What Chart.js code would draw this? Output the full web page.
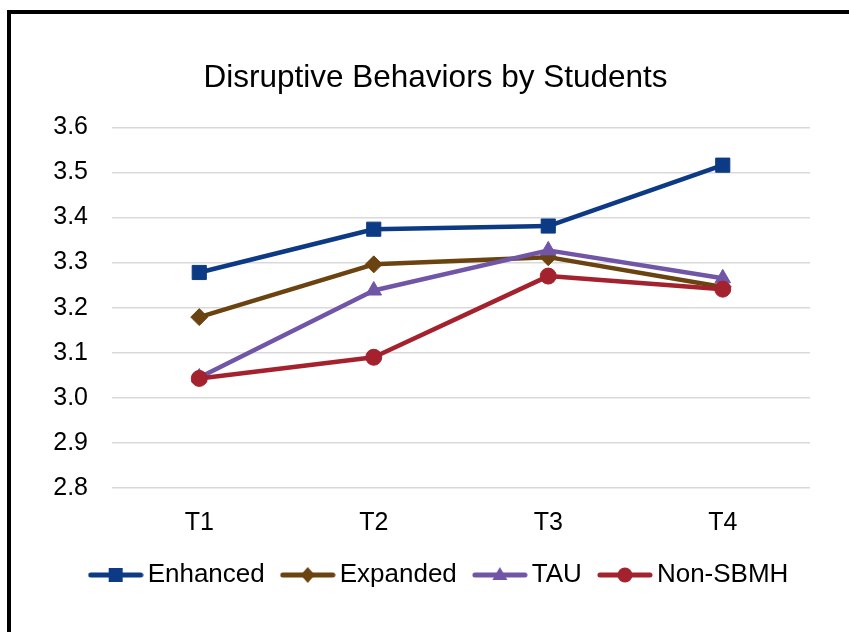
<!DOCTYPE html>
<html>
<head>
<meta charset="utf-8">
<script src="https://cdn.jsdelivr.net/npm/chart.js@4/dist/chart.umd.min.js"></script>
<style>
  html, body { margin: 0; padding: 0; background: #fff; overflow: hidden; }
  #frame {
    position: absolute; left: 7px; top: 10px;
    border-left: 4px solid #000; border-top: 4px solid #000;
    width: 849px; height: 618px;
  }
  canvas { display: block; }
</style>
</head>
<body>
<div id="frame"><canvas id="c" width="849" height="618"></canvas></div>
<script>
// Survey waves and mean scores per group
const waves = ['T1', 'T2', 'T3', 'T4'];
const enhanced = [3.278, 3.374, 3.381, 3.516];
const expanded = [3.179, 3.296, 3.312, 3.246];
const tau = [3.045, 3.238, 3.327, 3.265];
const nonSbmh = [3.043, 3.090, 3.270, 3.241];
const seriesNames = ['Enhanced', 'Expanded', 'TAU', 'Non-SBMH'];
const yTicks = [2.8, 2.9, 3.0, 3.1, 3.2, 3.3, 3.4, 3.5, 3.6];

const colors = ['#0D3A84', '#6A4311', '#7156A8', '#A4212E'];
const styles = ['rect', 'rectRot', 'triangle', 'circle'];
const radii = [10, 8.5, 9, 8];

const FONT = '"Liberation Sans", Arial, sans-serif';

// Legend swatch: a short line with the series marker in the middle
function legendSwatch(color, style) {
  const cv = document.createElement('canvas');
  cv.width = 56; cv.height = 18;
  const g = cv.getContext('2d');
  g.strokeStyle = color; g.fillStyle = color;
  g.lineWidth = 5; g.lineCap = 'round';
  g.beginPath(); g.moveTo(3, 9); g.lineTo(53, 9); g.stroke();
  g.beginPath();
  const cx = 28, cy = 9;
  if (style === 'rect') { g.rect(cx - 7, cy - 7, 14, 14); }
  else if (style === 'rectRot') { g.moveTo(cx, cy - 8); g.lineTo(cx + 7, cy); g.lineTo(cx, cy + 8); g.lineTo(cx - 7, cy); g.closePath(); }
  else if (style === 'triangle') { g.moveTo(cx, cy - 8); g.lineTo(cx + 7.5, cy + 5); g.lineTo(cx - 7.5, cy + 5); g.closePath(); }
  else { g.arc(cx, cy, 7.5, 0, Math.PI * 2); }
  g.fill();
  return cv;
}

const seriesValues = [enhanced, expanded, tau, nonSbmh];
const datasets = seriesValues.map((vals, i) => ({
  label: seriesNames[i],
  data: vals,
  borderColor: colors[i],
  backgroundColor: colors[i],
  borderWidth: 4.5,
  borderCapStyle: 'round',
  borderJoinStyle: 'round',
  pointStyle: styles[i],
  pointRadius: radii[i],
  pointBorderWidth: 1,
  pointBackgroundColor: colors[i],
  pointBorderColor: colors[i],
  order: 4 - i,
  tension: 0
}));

const swatches = colors.map((c, i) => legendSwatch(c, styles[i]));

// Nudge the legend row a little to the right of the canvas centre
const legendShift = {
  id: 'legendShift',
  afterLayout(chart) {
    if (chart.legend) { chart.legend.left += 7; chart.legend.right += 7; }
  }
};

new Chart(document.getElementById('c'), {
  type: 'line',
  data: { labels: waves, datasets },
  plugins: [legendShift],
  options: {
    responsive: false,
    animation: false,
    events: [],
    layout: { padding: { top: 0, left: 0, right: 0, bottom: 34 } },
    plugins: {
      tooltip: { enabled: false },
      title: {
        display: true,
        text: 'Disruptive Behaviors by Students',
        color: '#000',
        font: { family: FONT, size: 31.5, weight: 'normal', lineHeight: 1.2 },
        padding: { top: 45, bottom: 30.5 }
      },
      legend: {
        position: 'bottom',
        labels: {
          color: '#000',
          font: { family: FONT, size: 26 },
          usePointStyle: true,
          pointStyleWidth: 38,
          padding: 24,
          generateLabels: () => seriesNames.map((name, i) => ({
            text: name,
            datasetIndex: i,
            pointStyle: swatches[i],
            fillStyle: colors[i],
            strokeStyle: colors[i],
            lineWidth: 0,
            hidden: false
          }))
        }
      }
    },
    scales: {
      x: {
        offset: true,
        grid: { display: false },
        border: { display: false },
        afterFit: s => { s.height = 50; },
        ticks: { color: '#000', font: { family: FONT, size: 25 }, padding: 12 }
      },
      y: {
        min: 2.8, max: 3.6,
        afterBuildTicks: s => { s.ticks = yTicks.map(v => ({ value: v })); },
        afterFit: s => { s.width = 101; },
        grid: { color: '#d9d9d9', lineWidth: 1.5, drawTicks: false },
        border: { display: false },
        ticks: {
          color: '#000', padding: 24,
          font: { family: FONT, size: 25 },
          callback: v => v.toFixed(1)
        }
      },
      yRight: {
        position: 'right',
        display: true,
        grid: { display: false },
        border: { display: false },
        ticks: { display: false },
        afterFit: s => { s.width = 50; }
      }
    }
  }
});
</script>
</body>
</html>
